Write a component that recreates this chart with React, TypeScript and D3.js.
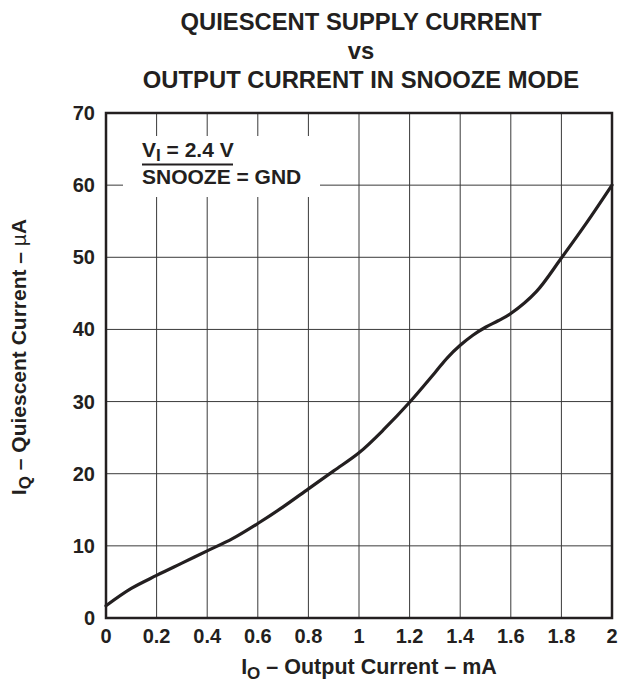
import React from "react";
import * as d3 from "d3";

const xValues = [0, 0.1, 0.2, 0.3, 0.4, 0.5, 0.6, 0.7, 0.8, 0.9, 1.0, 1.1, 1.2, 1.3, 1.35, 1.4, 1.45, 1.5, 1.55, 1.6, 1.7, 1.8, 1.9, 2.0];
const iqValues = [1.7, 4.1, 5.9, 7.6, 9.3, 11.0, 13.1, 15.4, 17.9, 20.4, 22.9, 26.2, 29.9, 34.0, 36.1, 37.8, 39.2, 40.3, 41.2, 42.2, 45.2, 49.9, 54.8, 60];
const xTicks = [0, 0.2, 0.4, 0.6, 0.8, 1, 1.2, 1.4, 1.6, 1.8, 2];
const yTicks = [0, 10, 20, 30, 40, 50, 60, 70];
const titleLines = ["QUIESCENT SUPPLY CURRENT", "vs", "OUTPUT CURRENT IN SNOOZE MODE"];

const W = 619, H = 683;
const left = 106, right = 612, top = 113, bottom = 618;
const font = "'Liberation Sans', Arial, sans-serif";
const ink = "#231f20";

export default function App() {
  const x = d3.scaleLinear().domain([0, 2]).range([left, right]);
  const y = d3.scaleLinear().domain([0, 70]).range([bottom, top]);
  const line = d3.line<number>().x((_, i) => x(xValues[i])).y((d) => y(d)).curve(d3.curveCatmullRom.alpha(0.5));
  const cx = (left + right) / 2;
  return (
    <svg width={W} height={H} style={{ position: "absolute", left: 0, top: 0, background: "#fff" }} fontFamily={font} fontWeight="bold">
      <rect x={0} y={0} width={W} height={H} fill="#fff" />
      {titleLines.map((t, i) => (
        <text key={i} x={cx + 2} y={30 + i * 29} textAnchor="middle" fontSize={23.8} fill={ink}>{t}</text>
      ))}
      {xTicks.map((t) => (
        <line key={"gx" + t} x1={x(t)} x2={x(t)} y1={top} y2={bottom} stroke="#3a3a3a" strokeWidth={1} />
      ))}
      {yTicks.map((t) => (
        <line key={"gy" + t} x1={left} x2={right} y1={y(t)} y2={y(t)} stroke="#3a3a3a" strokeWidth={1} />
      ))}
      <rect x={123} y={136} width={197} height={61} fill="#fff" />
      <rect x={left} y={top} width={right - left} height={bottom - top} fill="none" stroke={ink} strokeWidth={2.5} />
      <path d={line(iqValues) || ""} fill="none" stroke={ink} strokeWidth={3.2} strokeLinejoin="round" strokeLinecap="round" />
      <text x={142} y={157} fontSize={21} fill={ink}>
        V<tspan fontSize={17} dy={4}>I</tspan><tspan dy={-4}> = 2.4 V</tspan>
      </text>
      <line x1={142} x2={233} y1={164.5} y2={164.5} stroke={ink} strokeWidth={2.2} />
      <text x={142} y={183.5} fontSize={21} fill={ink}>SNOOZE = GND</text>
      {xTicks.map((t) => (
        <text key={"xt" + t} x={x(t)} y={643} textAnchor="middle" fontSize={20} fill={ink}>{String(t)}</text>
      ))}
      {yTicks.map((t) => (
        <text key={"yt" + t} x={95} y={y(t) + 7} textAnchor="end" fontSize={20} fill={ink}>{String(t)}</text>
      ))}
      <text x={369} y={674} textAnchor="middle" fontSize={21.5} fill={ink}>
        I<tspan fontSize={17} dy={5}>O</tspan><tspan dy={-5}> – Output Current – mA</tspan>
      </text>
      <text transform={`translate(26, 357) rotate(-90)`} textAnchor="middle" fontSize={21} fill={ink}>
        I<tspan fontSize={17} dy={5}>Q</tspan><tspan dy={-5}> – Quiescent Current – </tspan><tspan fontWeight="normal">µ</tspan><tspan>A</tspan>
      </text>
    </svg>
  );
}
